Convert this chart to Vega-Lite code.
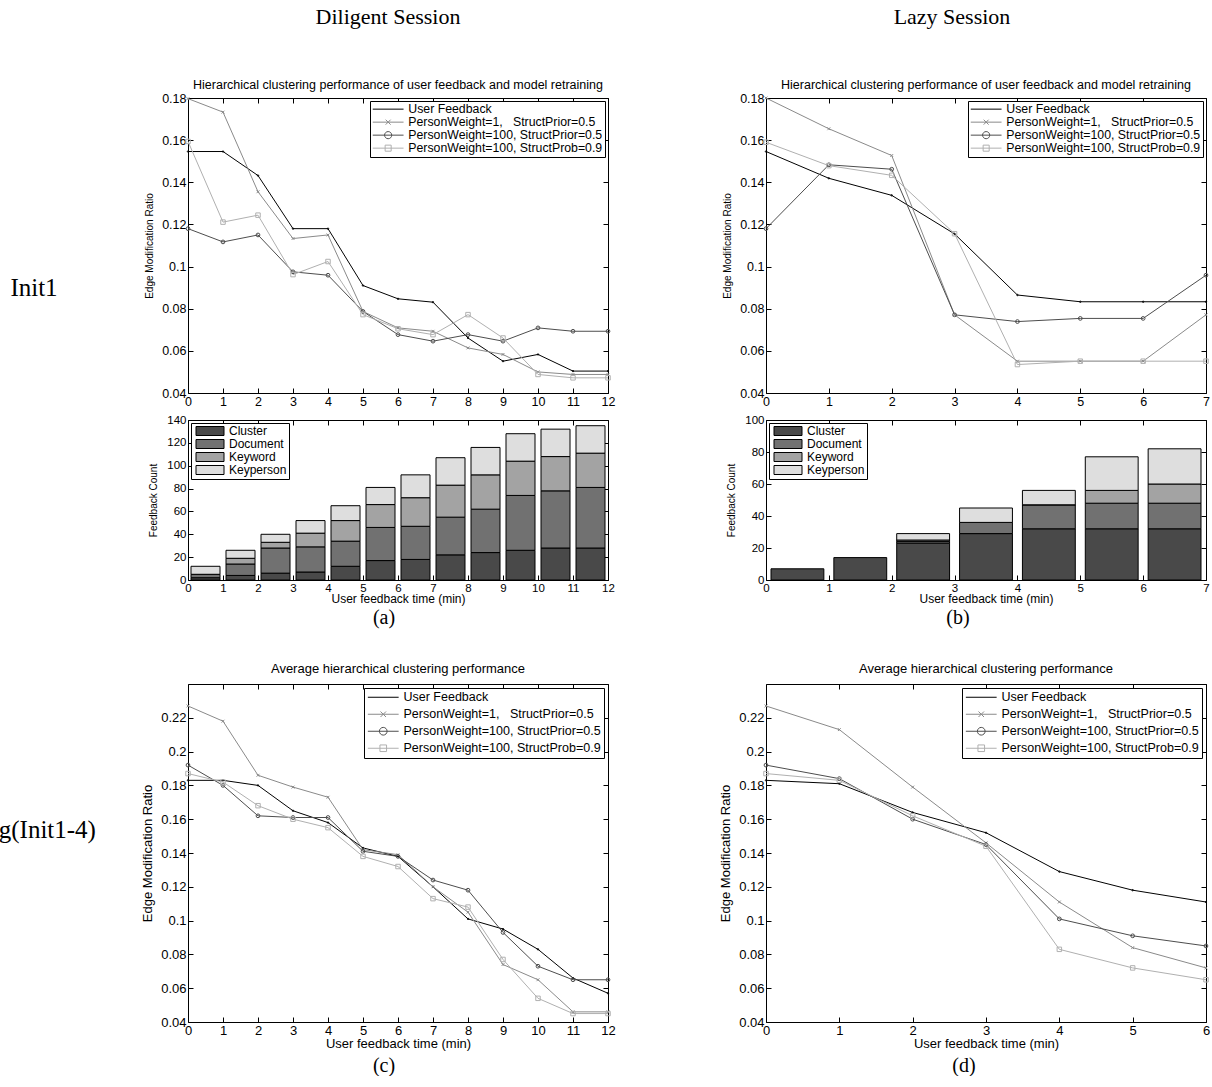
{
"$schema": "https://vega.github.io/schema/vega-lite/v6.json",
"background": "white",
"padding": {"left": -30, "top": 6, "right": 0, "bottom": 0},
"autosize": {"type": "pad"},
"bounds": "flush",
"align": "each",
"columns": 3,
"spacing": {"row": 27, "column": 158},
"resolve": {"scale": {"fill": "independent", "color": "independent", "shape": "independent", "size": "independent"}, "legend": {"fill": "independent", "color": "independent", "shape": "independent", "size": "independent"}},
"config": {
  "font": "Liberation Sans",
  "view": {"stroke": "black", "strokeWidth": 1},
  "axis": {"grid": false, "domain": false, "tickColor": "black", "tickSize": -5, "tickWidth": 1, "labelColor": "black", "labelFont": "Liberation Sans", "labelFontSize": 12.5, "labelPadding": 7, "labelFlush": false, "labelOverlap": false, "titleFont": "Liberation Sans", "titleFontWeight": "normal", "titleColor": "black", "titleFontSize": 10},
  "title": {"color": "black", "fontWeight": "normal", "font": "Liberation Sans"}
},
"datasets": {
  "la": [
    {"t":0,"s":"uf","v":0.1546},{"t":1,"s":"uf","v":0.1546},{"t":2,"s":"uf","v":0.1432},{"t":3,"s":"uf","v":0.118},{"t":4,"s":"uf","v":0.118},{"t":5,"s":"uf","v":0.091},{"t":6,"s":"uf","v":0.0847},{"t":7,"s":"uf","v":0.0831},{"t":8,"s":"uf","v":0.0661},{"t":9,"s":"uf","v":0.0551},{"t":10,"s":"uf","v":0.0583},{"t":11,"s":"uf","v":0.0504},{"t":12,"s":"uf","v":0.0504},
    {"t":0,"s":"pw1","v":0.1797},{"t":1,"s":"pw1","v":0.1733},{"t":2,"s":"pw1","v":0.1355},{"t":3,"s":"pw1","v":0.1133},{"t":4,"s":"pw1","v":0.115},{"t":5,"s":"pw1","v":0.0787},{"t":6,"s":"pw1","v":0.0709},{"t":7,"s":"pw1","v":0.0693},{"t":8,"s":"pw1","v":0.0614},{"t":9,"s":"pw1","v":0.0583},{"t":10,"s":"pw1","v":0.05},{"t":11,"s":"pw1","v":0.0488},{"t":12,"s":"pw1","v":0.0488},
    {"t":0,"s":"pw100","v":0.118},{"t":1,"s":"pw100","v":0.1117},{"t":2,"s":"pw100","v":0.115},{"t":3,"s":"pw100","v":0.0975},{"t":4,"s":"pw100","v":0.0959},{"t":5,"s":"pw100","v":0.0787},{"t":6,"s":"pw100","v":0.0677},{"t":7,"s":"pw100","v":0.0646},{"t":8,"s":"pw100","v":0.0677},{"t":9,"s":"pw100","v":0.0646},{"t":10,"s":"pw100","v":0.0709},{"t":11,"s":"pw100","v":0.0693},{"t":12,"s":"pw100","v":0.0693},
    {"t":0,"s":"prob","v":0.1594},{"t":1,"s":"prob","v":0.1211},{"t":2,"s":"prob","v":0.1244},{"t":3,"s":"prob","v":0.0962},{"t":4,"s":"prob","v":0.1024},{"t":5,"s":"prob","v":0.0772},{"t":6,"s":"prob","v":0.0705},{"t":7,"s":"prob","v":0.0677},{"t":8,"s":"prob","v":0.0772},{"t":9,"s":"prob","v":0.0661},{"t":10,"s":"prob","v":0.0488},{"t":11,"s":"prob","v":0.0472},{"t":12,"s":"prob","v":0.0472}
  ],
  "lb": [
    {"t":0,"s":"uf","v":0.1546},{"t":1,"s":"uf","v":0.1419},{"t":2,"s":"uf","v":0.1338},{"t":3,"s":"uf","v":0.1155},{"t":4,"s":"uf","v":0.0865},{"t":5,"s":"uf","v":0.0833},{"t":6,"s":"uf","v":0.0833},{"t":7,"s":"uf","v":0.0833},
    {"t":0,"s":"pw1","v":0.18},{"t":1,"s":"pw1","v":0.1654},{"t":2,"s":"pw1","v":0.1527},{"t":3,"s":"pw1","v":0.0771},{"t":4,"s":"pw1","v":0.0551},{"t":5,"s":"pw1","v":0.0551},{"t":6,"s":"pw1","v":0.0551},{"t":7,"s":"pw1","v":0.0771},
    {"t":0,"s":"pw100","v":0.118},{"t":1,"s":"pw100","v":0.1483},{"t":2,"s":"pw100","v":0.1462},{"t":3,"s":"pw100","v":0.0771},{"t":4,"s":"pw100","v":0.0739},{"t":5,"s":"pw100","v":0.0754},{"t":6,"s":"pw100","v":0.0754},{"t":7,"s":"pw100","v":0.0959},
    {"t":0,"s":"prob","v":0.159},{"t":1,"s":"prob","v":0.1479},{"t":2,"s":"prob","v":0.1433},{"t":3,"s":"prob","v":0.1156},{"t":4,"s":"prob","v":0.0535},{"t":5,"s":"prob","v":0.0551},{"t":6,"s":"prob","v":0.0551},{"t":7,"s":"prob","v":0.0551}
  ],
  "lc": [
    {"t":0,"s":"uf","v":0.183},{"t":1,"s":"uf","v":0.183},{"t":2,"s":"uf","v":0.18},{"t":3,"s":"uf","v":0.165},{"t":4,"s":"uf","v":0.158},{"t":5,"s":"uf","v":0.143},{"t":6,"s":"uf","v":0.138},{"t":7,"s":"uf","v":0.12},{"t":8,"s":"uf","v":0.101},{"t":9,"s":"uf","v":0.095},{"t":10,"s":"uf","v":0.083},{"t":11,"s":"uf","v":0.066},{"t":12,"s":"uf","v":0.057},
    {"t":0,"s":"pw1","v":0.227},{"t":1,"s":"pw1","v":0.218},{"t":2,"s":"pw1","v":0.186},{"t":3,"s":"pw1","v":0.179},{"t":4,"s":"pw1","v":0.173},{"t":5,"s":"pw1","v":0.142},{"t":6,"s":"pw1","v":0.139},{"t":7,"s":"pw1","v":0.12},{"t":8,"s":"pw1","v":0.105},{"t":9,"s":"pw1","v":0.074},{"t":10,"s":"pw1","v":0.065},{"t":11,"s":"pw1","v":0.046},{"t":12,"s":"pw1","v":0.046},
    {"t":0,"s":"pw100","v":0.192},{"t":1,"s":"pw100","v":0.18},{"t":2,"s":"pw100","v":0.162},{"t":3,"s":"pw100","v":0.161},{"t":4,"s":"pw100","v":0.161},{"t":5,"s":"pw100","v":0.141},{"t":6,"s":"pw100","v":0.138},{"t":7,"s":"pw100","v":0.124},{"t":8,"s":"pw100","v":0.118},{"t":9,"s":"pw100","v":0.093},{"t":10,"s":"pw100","v":0.073},{"t":11,"s":"pw100","v":0.065},{"t":12,"s":"pw100","v":0.065},
    {"t":0,"s":"prob","v":0.187},{"t":1,"s":"prob","v":0.182},{"t":2,"s":"prob","v":0.168},{"t":3,"s":"prob","v":0.16},{"t":4,"s":"prob","v":0.155},{"t":5,"s":"prob","v":0.138},{"t":6,"s":"prob","v":0.132},{"t":7,"s":"prob","v":0.113},{"t":8,"s":"prob","v":0.108},{"t":9,"s":"prob","v":0.077},{"t":10,"s":"prob","v":0.054},{"t":11,"s":"prob","v":0.045},{"t":12,"s":"prob","v":0.045}
  ],
  "ld": [
    {"t":0,"s":"uf","v":0.183},{"t":1,"s":"uf","v":0.181},{"t":2,"s":"uf","v":0.164},{"t":3,"s":"uf","v":0.152},{"t":4,"s":"uf","v":0.129},{"t":5,"s":"uf","v":0.118},{"t":6,"s":"uf","v":0.111},
    {"t":0,"s":"pw1","v":0.227},{"t":1,"s":"pw1","v":0.213},{"t":2,"s":"pw1","v":0.179},{"t":3,"s":"pw1","v":0.146},{"t":4,"s":"pw1","v":0.111},{"t":5,"s":"pw1","v":0.084},{"t":6,"s":"pw1","v":0.072},
    {"t":0,"s":"pw100","v":0.192},{"t":1,"s":"pw100","v":0.184},{"t":2,"s":"pw100","v":0.16},{"t":3,"s":"pw100","v":0.145},{"t":4,"s":"pw100","v":0.101},{"t":5,"s":"pw100","v":0.091},{"t":6,"s":"pw100","v":0.085},
    {"t":0,"s":"prob","v":0.187},{"t":1,"s":"prob","v":0.183},{"t":2,"s":"prob","v":0.162},{"t":3,"s":"prob","v":0.144},{"t":4,"s":"prob","v":0.083},{"t":5,"s":"prob","v":0.072},{"t":6,"s":"prob","v":0.065}
  ],
  "ba": [
    {"t0":0,"t1":1,"c":"Cluster","k":1,"n":2},{"t0":0,"t1":1,"c":"Document","k":2,"n":3},{"t0":0,"t1":1,"c":"Keyword","k":3,"n":0},{"t0":0,"t1":1,"c":"Keyperson","k":4,"n":7},
    {"t0":1,"t1":2,"c":"Cluster","k":1,"n":4},{"t0":1,"t1":2,"c":"Document","k":2,"n":10},{"t0":1,"t1":2,"c":"Keyword","k":3,"n":5},{"t0":1,"t1":2,"c":"Keyperson","k":4,"n":7},
    {"t0":2,"t1":3,"c":"Cluster","k":1,"n":6},{"t0":2,"t1":3,"c":"Document","k":2,"n":22},{"t0":2,"t1":3,"c":"Keyword","k":3,"n":5},{"t0":2,"t1":3,"c":"Keyperson","k":4,"n":7},
    {"t0":3,"t1":4,"c":"Cluster","k":1,"n":7},{"t0":3,"t1":4,"c":"Document","k":2,"n":22},{"t0":3,"t1":4,"c":"Keyword","k":3,"n":12},{"t0":3,"t1":4,"c":"Keyperson","k":4,"n":11},
    {"t0":4,"t1":5,"c":"Cluster","k":1,"n":12},{"t0":4,"t1":5,"c":"Document","k":2,"n":22},{"t0":4,"t1":5,"c":"Keyword","k":3,"n":18},{"t0":4,"t1":5,"c":"Keyperson","k":4,"n":13},
    {"t0":5,"t1":6,"c":"Cluster","k":1,"n":17},{"t0":5,"t1":6,"c":"Document","k":2,"n":29},{"t0":5,"t1":6,"c":"Keyword","k":3,"n":20},{"t0":5,"t1":6,"c":"Keyperson","k":4,"n":15},
    {"t0":6,"t1":7,"c":"Cluster","k":1,"n":18},{"t0":6,"t1":7,"c":"Document","k":2,"n":29},{"t0":6,"t1":7,"c":"Keyword","k":3,"n":25},{"t0":6,"t1":7,"c":"Keyperson","k":4,"n":20},
    {"t0":7,"t1":8,"c":"Cluster","k":1,"n":22},{"t0":7,"t1":8,"c":"Document","k":2,"n":33},{"t0":7,"t1":8,"c":"Keyword","k":3,"n":28},{"t0":7,"t1":8,"c":"Keyperson","k":4,"n":24},
    {"t0":8,"t1":9,"c":"Cluster","k":1,"n":24},{"t0":8,"t1":9,"c":"Document","k":2,"n":38},{"t0":8,"t1":9,"c":"Keyword","k":3,"n":30},{"t0":8,"t1":9,"c":"Keyperson","k":4,"n":24},
    {"t0":9,"t1":10,"c":"Cluster","k":1,"n":26},{"t0":9,"t1":10,"c":"Document","k":2,"n":48},{"t0":9,"t1":10,"c":"Keyword","k":3,"n":30},{"t0":9,"t1":10,"c":"Keyperson","k":4,"n":24},
    {"t0":10,"t1":11,"c":"Cluster","k":1,"n":28},{"t0":10,"t1":11,"c":"Document","k":2,"n":50},{"t0":10,"t1":11,"c":"Keyword","k":3,"n":30},{"t0":10,"t1":11,"c":"Keyperson","k":4,"n":24},
    {"t0":11,"t1":12,"c":"Cluster","k":1,"n":28},{"t0":11,"t1":12,"c":"Document","k":2,"n":53},{"t0":11,"t1":12,"c":"Keyword","k":3,"n":30},{"t0":11,"t1":12,"c":"Keyperson","k":4,"n":24}
  ],
  "bb": [
    {"t0":0,"t1":1,"c":"Cluster","k":1,"n":7},
    {"t0":1,"t1":2,"c":"Cluster","k":1,"n":14},
    {"t0":2,"t1":3,"c":"Cluster","k":1,"n":23},{"t0":2,"t1":3,"c":"Document","k":2,"n":1},{"t0":2,"t1":3,"c":"Keyword","k":3,"n":1},{"t0":2,"t1":3,"c":"Keyperson","k":4,"n":4},
    {"t0":3,"t1":4,"c":"Cluster","k":1,"n":29},{"t0":3,"t1":4,"c":"Document","k":2,"n":7},{"t0":3,"t1":4,"c":"Keyword","k":3,"n":0},{"t0":3,"t1":4,"c":"Keyperson","k":4,"n":9},
    {"t0":4,"t1":5,"c":"Cluster","k":1,"n":32},{"t0":4,"t1":5,"c":"Document","k":2,"n":15},{"t0":4,"t1":5,"c":"Keyword","k":3,"n":0},{"t0":4,"t1":5,"c":"Keyperson","k":4,"n":9},
    {"t0":5,"t1":6,"c":"Cluster","k":1,"n":32},{"t0":5,"t1":6,"c":"Document","k":2,"n":16},{"t0":5,"t1":6,"c":"Keyword","k":3,"n":8},{"t0":5,"t1":6,"c":"Keyperson","k":4,"n":21},
    {"t0":6,"t1":7,"c":"Cluster","k":1,"n":32},{"t0":6,"t1":7,"c":"Document","k":2,"n":16},{"t0":6,"t1":7,"c":"Keyword","k":3,"n":12},{"t0":6,"t1":7,"c":"Keyperson","k":4,"n":22}
  ]
},
"concat": [
  {"width": 10, "height": 40, "data": {"values": []}, "mark": "point", "view": {"stroke": null}},
  {"width": 420, "height": 40, "data": {"values": []}, "mark": "point", "view": {"stroke": null},
   "title": {"text": "Diligent Session", "orient": "top", "anchor": "middle", "font": "Liberation Serif", "fontSize": 22, "offset": 2, "dx": -10}},
  {"width": 440, "height": 40, "data": {"values": []}, "mark": "point", "view": {"stroke": null},
   "title": {"text": "Lazy Session", "orient": "top", "anchor": "middle", "font": "Liberation Serif", "fontSize": 22, "offset": 2, "dx": -34}},

  {"width": 10, "height": 178, "data": {"values": []}, "mark": "point", "view": {"stroke": null},
   "title": {"text": "Init1", "orient": "bottom", "anchor": "middle", "font": "Liberation Serif", "fontSize": 25, "offset": 0, "dx": 9}},
  {"width": 420, "height": 295,
   "title": {"text": "Hierarchical clustering performance of user feedback and model retraining", "fontSize": 12.5, "offset": 1},
   "data": {"name": "la"},
   "layer": [
     {"mark": {"type": "line", "strokeWidth": 1},
      "encoding": {
        "x": {"field": "t", "type": "quantitative", "scale": {"domain": [0, 12], "nice": false}, "axis": {"values": [0,1,2,3,4,5,6,7,8,9,10,11,12], "format": "d", "title": null}},
        "y": {"field": "v", "type": "quantitative", "scale": {"domain": [0.04, 0.18], "nice": false, "zero": false}, "axis": {"values": [0.04,0.06,0.08,0.1,0.12,0.14,0.16,0.18], "format": ".2~f", "title": "Edge Modification Ratio", "titlePadding": 7}},
        "color": {"field": "s", "type": "nominal", "scale": {"domain": ["uf","pw1","pw100","prob"], "range": ["#000000","#8a8a8a","#4d4d4d","#b0b0b0"]}, "legend": null}
      }},
     {"mark": {"type": "point", "filled": false, "strokeWidth": 1, "opacity": 1},
      "encoding": {
        "x": {"field": "t", "type": "quantitative", "scale": {"domain": [0, 12], "nice": false}, "axis": null},
        "y": {"field": "v", "type": "quantitative", "scale": {"domain": [0.04, 0.18], "nice": false, "zero": false}, "axis": null},
        "color": {"field": "s", "type": "nominal", "scale": {"domain": ["uf","pw1","pw100","prob"], "range": ["#000000","#8a8a8a","#4d4d4d","#b0b0b0"]}, "legend": null},
        "shape": {"field": "s", "type": "nominal", "scale": {"domain": ["uf","pw1","pw100","prob"], "range": ["circle","M-1,-1L1,1M-1,1L1,-1","circle","square"]}, "legend": null},
        "size": {"field": "s", "type": "nominal", "scale": {"domain": ["uf","pw1","pw100","prob"], "range": [2, 20, 45, 36]}, "legend": null}
      }},
     {"data": {"values": []},
      "mark": {"type": "point", "filled": false, "strokeWidth": 1, "opacity": 1},
      "encoding": {
        "x": {"field": "t", "type": "quantitative", "scale": {"domain": [0, 12], "nice": false}, "axis": {"orient": "top", "labels": false, "title": null, "values": [0,1,2,3,4,5,6,7,8,9,10,11,12]}},
        "y": {"field": "v", "type": "quantitative", "scale": {"domain": [0.04, 0.18], "nice": false, "zero": false}, "axis": {"orient": "right", "labels": false, "title": null, "values": [0.04,0.06,0.08,0.1,0.12,0.14,0.16,0.18]}},
        "shape": {"field": "s", "type": "nominal", "scale": {"domain": ["uf","pw1","pw100","prob"], "range": ["M-2.8,0L2.8,0","M-2.8,0L2.8,0M-0.45,-0.45L0.45,0.45M-0.45,0.45L0.45,-0.45","M-2.8,0L2.8,0M-0.65,0A0.65,0.65,0,1,1,0.65,0A0.65,0.65,0,1,1,-0.65,0","M-2.8,0L2.8,0M-0.55,-0.55L0.55,-0.55L0.55,0.55L-0.55,0.55Z"]},
          "legend": {"title": null, "orient": "top-right", "offset": 3, "strokeColor": "black", "fillColor": "white", "padding": 2, "cornerRadius": 0, "labelFont": "Liberation Sans", "labelFontSize": 12.3, "labelColor": "black", "symbolSize": 121, "symbolStrokeWidth": 1, "symbolOffset": 10, "labelOffset": 14, "rowPadding": -1, "labelLimit": 400,
            "labelExpr": "datum.label == 'uf' ? 'User Feedback' : datum.label == 'pw1' ? 'PersonWeight=1,\u00a0\u00a0 StructPrior=0.5' : datum.label == 'pw100' ? 'PersonWeight=100, StructPrior=0.5' : 'PersonWeight=100, StructProb=0.9'"}},
        "color": {"field": "s", "type": "nominal", "scale": {"domain": ["uf","pw1","pw100","prob"], "range": ["#000000","#8a8a8a","#4d4d4d","#b0b0b0"]},
          "legend": {"title": null, "orient": "top-right", "offset": 3, "strokeColor": "black", "fillColor": "white", "padding": 2, "cornerRadius": 0, "labelFont": "Liberation Sans", "labelFontSize": 12.3, "labelColor": "black", "symbolSize": 121, "symbolStrokeWidth": 1, "symbolOffset": 10, "labelOffset": 14, "rowPadding": -1, "labelLimit": 400,
            "labelExpr": "datum.label == 'uf' ? 'User Feedback' : datum.label == 'pw1' ? 'PersonWeight=1,\u00a0\u00a0 StructPrior=0.5' : datum.label == 'pw100' ? 'PersonWeight=100, StructPrior=0.5' : 'PersonWeight=100, StructProb=0.9'"}}
      }}
   ],
   "resolve": {"scale": {"color": "independent", "shape": "independent", "size": "independent"}, "axis": {"x": "independent", "y": "independent"}}
  },
  {"width": 440, "height": 295,
   "title": {"text": "Hierarchical clustering performance of user feedback and model retraining", "fontSize": 12.5, "offset": 1},
   "data": {"name": "lb"},
   "layer": [
     {"mark": {"type": "line", "strokeWidth": 1},
      "encoding": {
        "x": {"field": "t", "type": "quantitative", "scale": {"domain": [0, 7], "nice": false}, "axis": {"values": [0,1,2,3,4,5,6,7], "format": "d", "title": null}},
        "y": {"field": "v", "type": "quantitative", "scale": {"domain": [0.04, 0.18], "nice": false, "zero": false}, "axis": {"values": [0.04,0.06,0.08,0.1,0.12,0.14,0.16,0.18], "format": ".2~f", "title": "Edge Modification Ratio", "titlePadding": 7}},
        "color": {"field": "s", "type": "nominal", "scale": {"domain": ["uf","pw1","pw100","prob"], "range": ["#000000","#8a8a8a","#4d4d4d","#b0b0b0"]}, "legend": null}
      }},
     {"mark": {"type": "point", "filled": false, "strokeWidth": 1, "opacity": 1},
      "encoding": {
        "x": {"field": "t", "type": "quantitative", "scale": {"domain": [0, 7], "nice": false}, "axis": null},
        "y": {"field": "v", "type": "quantitative", "scale": {"domain": [0.04, 0.18], "nice": false, "zero": false}, "axis": null},
        "color": {"field": "s", "type": "nominal", "scale": {"domain": ["uf","pw1","pw100","prob"], "range": ["#000000","#8a8a8a","#4d4d4d","#b0b0b0"]}, "legend": null},
        "shape": {"field": "s", "type": "nominal", "scale": {"domain": ["uf","pw1","pw100","prob"], "range": ["circle","M-1,-1L1,1M-1,1L1,-1","circle","square"]}, "legend": null},
        "size": {"field": "s", "type": "nominal", "scale": {"domain": ["uf","pw1","pw100","prob"], "range": [2, 20, 45, 36]}, "legend": null}
      }},
     {"data": {"values": []},
      "mark": {"type": "point", "filled": false, "strokeWidth": 1, "opacity": 1},
      "encoding": {
        "x": {"field": "t", "type": "quantitative", "scale": {"domain": [0, 7], "nice": false}, "axis": {"orient": "top", "labels": false, "title": null, "values": [0,1,2,3,4,5,6,7]}},
        "y": {"field": "v", "type": "quantitative", "scale": {"domain": [0.04, 0.18], "nice": false, "zero": false}, "axis": {"orient": "right", "labels": false, "title": null, "values": [0.04,0.06,0.08,0.1,0.12,0.14,0.16,0.18]}},
        "shape": {"field": "s", "type": "nominal", "scale": {"domain": ["uf","pw1","pw100","prob"], "range": ["M-2.8,0L2.8,0","M-2.8,0L2.8,0M-0.45,-0.45L0.45,0.45M-0.45,0.45L0.45,-0.45","M-2.8,0L2.8,0M-0.65,0A0.65,0.65,0,1,1,0.65,0A0.65,0.65,0,1,1,-0.65,0","M-2.8,0L2.8,0M-0.55,-0.55L0.55,-0.55L0.55,0.55L-0.55,0.55Z"]},
          "legend": {"title": null, "orient": "top-right", "offset": 3, "strokeColor": "black", "fillColor": "white", "padding": 2, "cornerRadius": 0, "labelFont": "Liberation Sans", "labelFontSize": 12.3, "labelColor": "black", "symbolSize": 121, "symbolStrokeWidth": 1, "symbolOffset": 10, "labelOffset": 14, "rowPadding": -1, "labelLimit": 400,
            "labelExpr": "datum.label == 'uf' ? 'User Feedback' : datum.label == 'pw1' ? 'PersonWeight=1,\u00a0\u00a0 StructPrior=0.5' : datum.label == 'pw100' ? 'PersonWeight=100, StructPrior=0.5' : 'PersonWeight=100, StructProb=0.9'"}},
        "color": {"field": "s", "type": "nominal", "scale": {"domain": ["uf","pw1","pw100","prob"], "range": ["#000000","#8a8a8a","#4d4d4d","#b0b0b0"]},
          "legend": {"title": null, "orient": "top-right", "offset": 3, "strokeColor": "black", "fillColor": "white", "padding": 2, "cornerRadius": 0, "labelFont": "Liberation Sans", "labelFontSize": 12.3, "labelColor": "black", "symbolSize": 121, "symbolStrokeWidth": 1, "symbolOffset": 10, "labelOffset": 14, "rowPadding": -1, "labelLimit": 400,
            "labelExpr": "datum.label == 'uf' ? 'User Feedback' : datum.label == 'pw1' ? 'PersonWeight=1,\u00a0\u00a0 StructPrior=0.5' : datum.label == 'pw100' ? 'PersonWeight=100, StructPrior=0.5' : 'PersonWeight=100, StructProb=0.9'"}}
      }}
   ],
   "resolve": {"scale": {"color": "independent", "shape": "independent", "size": "independent"}, "axis": {"x": "independent", "y": "independent"}}
  },

  {"width": 10, "height": 160, "data": {"values": []}, "mark": "point", "view": {"stroke": null}},
  {"width": 420, "height": 160,
   "title": {"text": "(a)", "orient": "bottom", "anchor": "middle", "font": "Liberation Serif", "fontSize": 20, "offset": 3, "dx": -14},
   "layer": [
     {"data": {"name": "ba"},
      "transform": [{"stack": "n", "groupby": ["t0"], "sort": [{"field": "k"}], "as": ["y0", "y1"]}],
      "mark": {"type": "bar", "stroke": "black", "strokeWidth": 1, "xOffset": 3, "x2Offset": -3},
      "encoding": {
        "x": {"field": "t0", "type": "quantitative", "scale": {"domain": [0, 12], "nice": false}, "axis": {"values": [0,1,2,3,4,5,6,7,8,9,10,11,12], "format": "d", "title": "User feedback time (min)", "titleFontSize": 12, "titlePadding": 0, "labelFontSize": 11.5}},
        "x2": {"field": "t1"},
        "y": {"field": "y1", "type": "quantitative", "scale": {"domain": [0, 140], "nice": false}, "axis": {"values": [0,20,40,60,80,100,120,140], "title": "Feedback Count", "titlePadding": 8, "labelFontSize": 11.5}},
        "y2": {"field": "y0"},
        "fill": {"field": "c", "type": "nominal", "scale": {"domain": ["Cluster","Document","Keyword","Keyperson"], "range": ["#494949","#717171","#a3a3a3","#dedede"]},
          "legend": {"title": null, "orient": "top-left", "offset": 3, "strokeColor": "black", "fillColor": "white", "padding": 2, "cornerRadius": 0, "labelFont": "Liberation Sans", "labelFontSize": 12, "labelColor": "black", "symbolType": "M-2.8,-0.9L2.8,-0.9L2.8,0.9L-2.8,0.9Z", "symbolSize": 100, "symbolStrokeColor": "black", "symbolStrokeWidth": 1, "symbolOffset": 11, "labelOffset": 13, "rowPadding": -2}}
      }},
     {"data": {"values": []},
      "mark": {"type": "point"},
      "encoding": {
        "x": {"field": "t0", "type": "quantitative", "scale": {"domain": [0, 12], "nice": false}, "axis": {"orient": "top", "labels": false, "title": null, "values": [0,1,2,3,4,5,6,7,8,9,10,11,12]}},
        "y": {"field": "y1", "type": "quantitative", "scale": {"domain": [0, 140], "nice": false}, "axis": {"orient": "right", "labels": false, "title": null, "values": [0,20,40,60,80,100,120,140]}}
      }}
   ],
   "resolve": {"axis": {"x": "independent", "y": "independent"}}
  },
  {"width": 440, "height": 160,
   "title": {"text": "(b)", "orient": "bottom", "anchor": "middle", "font": "Liberation Serif", "fontSize": 20, "offset": 3, "dx": -28},
   "layer": [
     {"data": {"name": "bb"},
      "transform": [{"stack": "n", "groupby": ["t0"], "sort": [{"field": "k"}], "as": ["y0", "y1"]}],
      "mark": {"type": "bar", "stroke": "black", "strokeWidth": 1, "xOffset": 5, "x2Offset": -5},
      "encoding": {
        "x": {"field": "t0", "type": "quantitative", "scale": {"domain": [0, 7], "nice": false}, "axis": {"values": [0,1,2,3,4,5,6,7], "format": "d", "title": "User feedback time (min)", "titleFontSize": 12, "titlePadding": 0, "labelFontSize": 11.5}},
        "x2": {"field": "t1"},
        "y": {"field": "y1", "type": "quantitative", "scale": {"domain": [0, 100], "nice": false}, "axis": {"values": [0,20,40,60,80,100], "title": "Feedback Count", "titlePadding": 8, "labelFontSize": 11.5}},
        "y2": {"field": "y0"},
        "fill": {"field": "c", "type": "nominal", "scale": {"domain": ["Cluster","Document","Keyword","Keyperson"], "range": ["#494949","#717171","#a3a3a3","#dedede"]},
          "legend": {"title": null, "orient": "top-left", "offset": 3, "strokeColor": "black", "fillColor": "white", "padding": 2, "cornerRadius": 0, "labelFont": "Liberation Sans", "labelFontSize": 12, "labelColor": "black", "symbolType": "M-2.8,-0.9L2.8,-0.9L2.8,0.9L-2.8,0.9Z", "symbolSize": 100, "symbolStrokeColor": "black", "symbolStrokeWidth": 1, "symbolOffset": 11, "labelOffset": 13, "rowPadding": -2}}
      }},
     {"data": {"values": []},
      "mark": {"type": "point"},
      "encoding": {
        "x": {"field": "t0", "type": "quantitative", "scale": {"domain": [0, 7], "nice": false}, "axis": {"orient": "top", "labels": false, "title": null, "values": [0,1,2,3,4,5,6,7]}},
        "y": {"field": "y1", "type": "quantitative", "scale": {"domain": [0, 100], "nice": false}, "axis": {"orient": "right", "labels": false, "title": null, "values": [0,20,40,60,80,100]}}
      }}
   ],
   "resolve": {"axis": {"x": "independent", "y": "independent"}}
  },

  {"width": 10, "height": 50, "data": {"values": []}, "mark": "point", "view": {"stroke": null}},
  {"width": 10, "height": 50, "data": {"values": []}, "mark": "point", "view": {"stroke": null}},
  {"width": 10, "height": 50, "data": {"values": []}, "mark": "point", "view": {"stroke": null}},

  {"width": 10, "height": 134, "data": {"values": []}, "mark": "point", "view": {"stroke": null},
   "title": {"text": "Avg(Init1-4)", "orient": "bottom", "anchor": "middle", "font": "Liberation Serif", "fontSize": 25, "offset": 0, "dx": 8}},
  {"width": 420, "height": 338,
   "title": {"text": "Average hierarchical clustering performance", "fontSize": 13, "offset": 8},
   "data": {"name": "lc"},
   "layer": [
     {"mark": {"type": "line", "strokeWidth": 1},
      "encoding": {
        "x": {"field": "t", "type": "quantitative", "scale": {"domain": [0, 12], "nice": false}, "axis": {"values": [0,1,2,3,4,5,6,7,8,9,10,11,12], "format": "d", "title": "User feedback time (min)", "titleFontSize": 13, "titlePadding": 0, "labelFontSize": 13}},
        "y": {"field": "v", "type": "quantitative", "scale": {"domain": [0.04, 0.24], "nice": false, "zero": false}, "axis": {"values": [0.04,0.06,0.08,0.1,0.12,0.14,0.16,0.18,0.2,0.22], "format": ".2~f", "title": "Edge Modification Ratio", "titleFontSize": 13, "titlePadding": 6, "labelFontSize": 13}},
        "color": {"field": "s", "type": "nominal", "scale": {"domain": ["uf","pw1","pw100","prob"], "range": ["#000000","#8a8a8a","#4d4d4d","#b0b0b0"]}, "legend": null}
      }},
     {"mark": {"type": "point", "filled": false, "strokeWidth": 1, "opacity": 1},
      "encoding": {
        "x": {"field": "t", "type": "quantitative", "scale": {"domain": [0, 12], "nice": false}, "axis": null},
        "y": {"field": "v", "type": "quantitative", "scale": {"domain": [0.04, 0.24], "nice": false, "zero": false}, "axis": null},
        "color": {"field": "s", "type": "nominal", "scale": {"domain": ["uf","pw1","pw100","prob"], "range": ["#000000","#8a8a8a","#4d4d4d","#b0b0b0"]}, "legend": null},
        "shape": {"field": "s", "type": "nominal", "scale": {"domain": ["uf","pw1","pw100","prob"], "range": ["circle","M-1,-1L1,1M-1,1L1,-1","circle","square"]}, "legend": null},
        "size": {"field": "s", "type": "nominal", "scale": {"domain": ["uf","pw1","pw100","prob"], "range": [2, 20, 55, 40]}, "legend": null}
      }},
     {"data": {"values": []},
      "mark": {"type": "point", "filled": false, "strokeWidth": 1, "opacity": 1},
      "encoding": {
        "x": {"field": "t", "type": "quantitative", "scale": {"domain": [0, 12], "nice": false}, "axis": {"orient": "top", "labels": false, "title": null, "values": [0,1,2,3,4,5,6,7,8,9,10,11,12]}},
        "y": {"field": "v", "type": "quantitative", "scale": {"domain": [0.04, 0.24], "nice": false, "zero": false}, "axis": {"orient": "right", "labels": false, "title": null, "values": [0.04,0.06,0.08,0.1,0.12,0.14,0.16,0.18,0.2,0.22,0.24]}},
        "shape": {"field": "s", "type": "nominal", "scale": {"domain": ["uf","pw1","pw100","prob"], "range": ["M-2.8,0L2.8,0","M-2.8,0L2.8,0M-0.5,-0.5L0.5,0.5M-0.5,0.5L0.5,-0.5","M-2.8,0L2.8,0M-0.7,0A0.7,0.7,0,1,1,0.7,0A0.7,0.7,0,1,1,-0.7,0","M-2.8,0L2.8,0M-0.6,-0.6L0.6,-0.6L0.6,0.6L-0.6,0.6Z"]},
          "legend": {"title": null, "orient": "top-right", "offset": 4, "strokeColor": "black", "fillColor": "white", "padding": 3, "cornerRadius": 0, "labelFont": "Liberation Sans", "labelFontSize": 12.5, "labelColor": "black", "symbolSize": 121, "symbolStrokeWidth": 1, "symbolOffset": 10, "labelOffset": 14, "rowPadding": 4, "labelLimit": 400,
            "labelExpr": "datum.label == 'uf' ? 'User Feedback' : datum.label == 'pw1' ? 'PersonWeight=1,\u00a0\u00a0 StructPrior=0.5' : datum.label == 'pw100' ? 'PersonWeight=100, StructPrior=0.5' : 'PersonWeight=100, StructProb=0.9'"}},
        "color": {"field": "s", "type": "nominal", "scale": {"domain": ["uf","pw1","pw100","prob"], "range": ["#000000","#8a8a8a","#4d4d4d","#b0b0b0"]},
          "legend": {"title": null, "orient": "top-right", "offset": 4, "strokeColor": "black", "fillColor": "white", "padding": 3, "cornerRadius": 0, "labelFont": "Liberation Sans", "labelFontSize": 12.5, "labelColor": "black", "symbolSize": 121, "symbolStrokeWidth": 1, "symbolOffset": 10, "labelOffset": 14, "rowPadding": 4, "labelLimit": 400,
            "labelExpr": "datum.label == 'uf' ? 'User Feedback' : datum.label == 'pw1' ? 'PersonWeight=1,\u00a0\u00a0 StructPrior=0.5' : datum.label == 'pw100' ? 'PersonWeight=100, StructPrior=0.5' : 'PersonWeight=100, StructProb=0.9'"}}
      }}
   ],
   "resolve": {"scale": {"color": "independent", "shape": "independent", "size": "independent"}, "axis": {"x": "independent", "y": "independent"}}
  },
  {"width": 440, "height": 338,
   "title": {"text": "Average hierarchical clustering performance", "fontSize": 13, "offset": 8},
   "data": {"name": "ld"},
   "layer": [
     {"mark": {"type": "line", "strokeWidth": 1},
      "encoding": {
        "x": {"field": "t", "type": "quantitative", "scale": {"domain": [0, 6], "nice": false}, "axis": {"values": [0,1,2,3,4,5,6], "format": "d", "title": "User feedback time (min)", "titleFontSize": 13, "titlePadding": 0, "labelFontSize": 13}},
        "y": {"field": "v", "type": "quantitative", "scale": {"domain": [0.04, 0.24], "nice": false, "zero": false}, "axis": {"values": [0.04,0.06,0.08,0.1,0.12,0.14,0.16,0.18,0.2,0.22], "format": ".2~f", "title": "Edge Modification Ratio", "titleFontSize": 13, "titlePadding": 6, "labelFontSize": 13}},
        "color": {"field": "s", "type": "nominal", "scale": {"domain": ["uf","pw1","pw100","prob"], "range": ["#000000","#8a8a8a","#4d4d4d","#b0b0b0"]}, "legend": null}
      }},
     {"mark": {"type": "point", "filled": false, "strokeWidth": 1, "opacity": 1},
      "encoding": {
        "x": {"field": "t", "type": "quantitative", "scale": {"domain": [0, 6], "nice": false}, "axis": null},
        "y": {"field": "v", "type": "quantitative", "scale": {"domain": [0.04, 0.24], "nice": false, "zero": false}, "axis": null},
        "color": {"field": "s", "type": "nominal", "scale": {"domain": ["uf","pw1","pw100","prob"], "range": ["#000000","#8a8a8a","#4d4d4d","#b0b0b0"]}, "legend": null},
        "shape": {"field": "s", "type": "nominal", "scale": {"domain": ["uf","pw1","pw100","prob"], "range": ["circle","M-1,-1L1,1M-1,1L1,-1","circle","square"]}, "legend": null},
        "size": {"field": "s", "type": "nominal", "scale": {"domain": ["uf","pw1","pw100","prob"], "range": [2, 20, 55, 40]}, "legend": null}
      }},
     {"data": {"values": []},
      "mark": {"type": "point", "filled": false, "strokeWidth": 1, "opacity": 1},
      "encoding": {
        "x": {"field": "t", "type": "quantitative", "scale": {"domain": [0, 6], "nice": false}, "axis": {"orient": "top", "labels": false, "title": null, "values": [0,1,2,3,4,5,6]}},
        "y": {"field": "v", "type": "quantitative", "scale": {"domain": [0.04, 0.24], "nice": false, "zero": false}, "axis": {"orient": "right", "labels": false, "title": null, "values": [0.04,0.06,0.08,0.1,0.12,0.14,0.16,0.18,0.2,0.22,0.24]}},
        "shape": {"field": "s", "type": "nominal", "scale": {"domain": ["uf","pw1","pw100","prob"], "range": ["M-2.8,0L2.8,0","M-2.8,0L2.8,0M-0.5,-0.5L0.5,0.5M-0.5,0.5L0.5,-0.5","M-2.8,0L2.8,0M-0.7,0A0.7,0.7,0,1,1,0.7,0A0.7,0.7,0,1,1,-0.7,0","M-2.8,0L2.8,0M-0.6,-0.6L0.6,-0.6L0.6,0.6L-0.6,0.6Z"]},
          "legend": {"title": null, "orient": "top-right", "offset": 4, "strokeColor": "black", "fillColor": "white", "padding": 3, "cornerRadius": 0, "labelFont": "Liberation Sans", "labelFontSize": 12.5, "labelColor": "black", "symbolSize": 121, "symbolStrokeWidth": 1, "symbolOffset": 10, "labelOffset": 14, "rowPadding": 4, "labelLimit": 400,
            "labelExpr": "datum.label == 'uf' ? 'User Feedback' : datum.label == 'pw1' ? 'PersonWeight=1,\u00a0\u00a0 StructPrior=0.5' : datum.label == 'pw100' ? 'PersonWeight=100, StructPrior=0.5' : 'PersonWeight=100, StructProb=0.9'"}},
        "color": {"field": "s", "type": "nominal", "scale": {"domain": ["uf","pw1","pw100","prob"], "range": ["#000000","#8a8a8a","#4d4d4d","#b0b0b0"]},
          "legend": {"title": null, "orient": "top-right", "offset": 4, "strokeColor": "black", "fillColor": "white", "padding": 3, "cornerRadius": 0, "labelFont": "Liberation Sans", "labelFontSize": 12.5, "labelColor": "black", "symbolSize": 121, "symbolStrokeWidth": 1, "symbolOffset": 10, "labelOffset": 14, "rowPadding": 4, "labelLimit": 400,
            "labelExpr": "datum.label == 'uf' ? 'User Feedback' : datum.label == 'pw1' ? 'PersonWeight=1,\u00a0\u00a0 StructPrior=0.5' : datum.label == 'pw100' ? 'PersonWeight=100, StructPrior=0.5' : 'PersonWeight=100, StructProb=0.9'"}}
      }}
   ],
   "resolve": {"scale": {"color": "independent", "shape": "independent", "size": "independent"}, "axis": {"x": "independent", "y": "independent"}}
  },

  {"width": 10, "height": 1, "data": {"values": []}, "mark": "point", "view": {"stroke": null}},
  {"width": 420, "height": 1, "data": {"values": []}, "mark": "point", "view": {"stroke": null},
   "title": {"text": "(c)", "orient": "bottom", "anchor": "middle", "font": "Liberation Serif", "fontSize": 20, "offset": 6, "dx": -14}},
  {"width": 440, "height": 1, "data": {"values": []}, "mark": "point", "view": {"stroke": null},
   "title": {"text": "(d)", "orient": "bottom", "anchor": "middle", "font": "Liberation Serif", "fontSize": 20, "offset": 6, "dx": -22}}
]
}
